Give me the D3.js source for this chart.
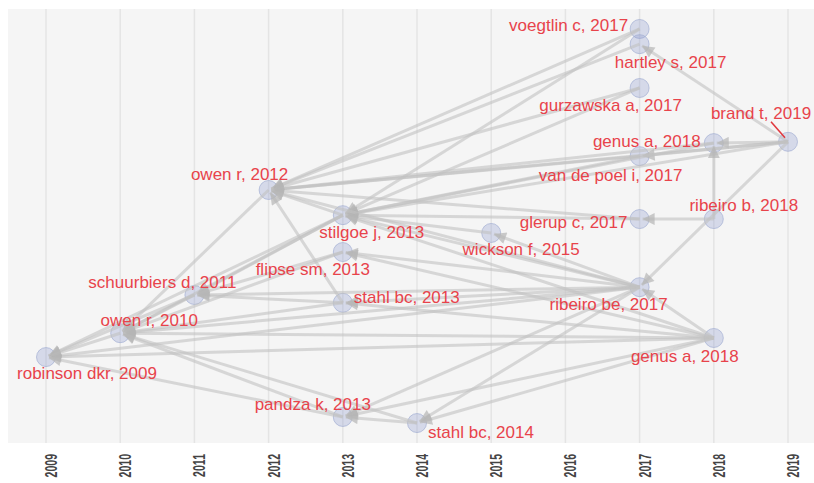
<!DOCTYPE html>
<html>
<head>
<meta charset="utf-8">
<script src="https://cdn.jsdelivr.net/npm/d3@7"></script>
<style>
  body { margin: 0; background: #fff; }
  text { font-family: "Liberation Sans", Arial, sans-serif; }
</style>
</head>
<body>
<div class="container"></div>
<script>
// citation network, year on x, free layout level on y (0 top .. 100 bottom)
var years = [2009, 2010, 2011, 2012, 2013, 2014, 2015, 2016, 2017, 2018, 2019];

var paperNames = ["voegtlin c", "hartley s", "gurzawska a", "brand t", "genus a", "van de poel i",
  "owen r", "stilgoe j", "wickson f", "glerup c", "ribeiro b", "flipse sm", "ribeiro be",
  "schuurbiers d", "stahl bc", "owen r", "genus a", "robinson dkr", "pandza k", "stahl bc"];
var paperYears = [2017, 2017, 2017, 2019, 2018, 2017, 2012, 2013, 2015, 2017, 2018, 2013, 2017,
  2011, 2013, 2010, 2018, 2009, 2013, 2014];
var paperLevels = [4.6, 8.1, 18.2, 30.6, 30.9, 33.9, 41.7, 47.5, 51.6, 48.4, 48.4, 56.0, 64.1,
  65.9, 67.7, 74.7, 75.8, 80.2, 94.0, 95.4];

// citing -> cited (indices into the lists above)
var citeFrom = [0, 0, 1, 2, 2, 3, 3, 3, 3, 3, 3, 4, 4, 5, 5, 9, 9, 10, 10, 8,
  12, 12, 12, 12, 12, 12, 12, 12, 12, 12,
  16, 16, 16, 16, 16, 16, 16, 16,
  7, 7, 7, 7, 6, 14, 14, 14, 11, 11, 13, 13, 15, 18, 18, 19, 19];
var citeTo = [6, 7, 6, 6, 7, 1, 4, 5, 6, 7, 12, 6, 7, 6, 7, 7, 6, 9, 4, 7,
  6, 7, 11, 13, 14, 15, 17, 19, 18, 8,
  12, 15, 17, 14, 11, 18, 19, 7,
  6, 15, 17, 13, 15, 6, 13, 15, 15, 13, 15, 17, 17, 17, 15, 15, 18];

var W = 814, H = 483;
var panel = {left: 8, top: 9, right: 814, bottom: 443};
var labelOffset = [[-71, -3], [31, 18], [-29, 18], [-27, -28], [-67, -2], [-29, 19],
  [-29, -15], [29, 17], [30, 17], [-66, 3], [30, -14], [-30, 17], [-31, 17],
  [-32, -13], [64, -5], [29, -13], [-29, 19], [41, 16], [-30, -12], [64, 9]];

var x = d3.scaleLinear().domain([2009, 2019]).range([46, 788]);
var y = d3.scaleLinear().domain([0, 100]).range([9, 443]);

var svg = d3.select(".container").append("svg")
  .attr("width", W).attr("height", H);

svg.append("rect")
  .attr("x", panel.left).attr("y", panel.top)
  .attr("width", panel.right - panel.left).attr("height", panel.bottom - panel.top)
  .attr("fill", "#f5f5f5");

svg.append("g").selectAll("line").data(years).enter().append("line")
  .attr("x1", function(d){ return x(d); }).attr("x2", function(d){ return x(d); })
  .attr("y1", panel.top).attr("y2", panel.bottom)
  .attr("stroke", "#e4e4e4").attr("stroke-width", 1.5);

svg.append("g").selectAll("text").data(years).enter().append("text")
  .attr("transform", function(d){ return "translate(" + (x(d) + 11) + ",454) rotate(-90) scale(0.66,1)"; })
  .attr("text-anchor", "end")
  .attr("font-size", 16).attr("font-weight", "bold").attr("fill", "#444")
  .text(function(d){ return d; });

var nodes = paperNames.map(function(n, i){
  return {name: n, year: paperYears[i], cx: x(paperYears[i]), cy: y(paperLevels[i]), off: labelOffset[i]};
});
var links = citeFrom.map(function(f, i){ return {s: nodes[f], t: nodes[citeTo[i]]}; });

svg.append("defs").append("marker")
  .attr("id", "arrow").attr("markerUnits", "userSpaceOnUse")
  .attr("viewBox", "0 -5 10 10").attr("refX", 10).attr("refY", 0)
  .attr("markerWidth", 16).attr("markerHeight", 12).attr("orient", "auto")
  .append("path").attr("d", "M0,-5L10,0L0,5Z")
  .attr("fill", "#b5b5b5").attr("fill-opacity", 0.7);

var r = 9.5;

svg.append("g").selectAll("circle").data(nodes).enter().append("circle")
  .attr("cx", function(d){ return d.cx; }).attr("cy", function(d){ return d.cy; })
  .attr("r", r)
  .attr("fill", "#8a99cc").attr("fill-opacity", 0.3)
  .attr("stroke", "#9aa6cf").attr("stroke-opacity", 0.6);

svg.append("g").selectAll("line").data(links).enter().append("line")
  .attr("x1", function(d){ return d.s.cx; }).attr("y1", function(d){ return d.s.cy; })
  .attr("x2", function(d){
    var dx = d.s.cx - d.t.cx, dy = d.s.cy - d.t.cy, len = Math.sqrt(dx*dx + dy*dy);
    return d.t.cx + dx / len * 3;
  })
  .attr("y2", function(d){
    var dx = d.s.cx - d.t.cx, dy = d.s.cy - d.t.cy, len = Math.sqrt(dx*dx + dy*dy);
    return d.t.cy + dy / len * 3;
  })
  .attr("stroke", "#c2c2c2").attr("stroke-opacity", 0.6).attr("stroke-width", 3)
  .attr("marker-end", "url(#arrow)");

// leader line from the brand t label to its node
svg.append("line")
  .attr("x1", x(2019) - 17).attr("y1", y(paperLevels[3]) - 20)
  .attr("x2", x(2019) - 3).attr("y2", y(paperLevels[3]) - 4)
  .attr("stroke", "#e0393f").attr("stroke-width", 1.5);

svg.append("g").selectAll("text").data(nodes).enter().append("text")
  .attr("x", function(d){ return d.cx + d.off[0]; })
  .attr("y", function(d){ return d.cy + d.off[1]; })
  .attr("text-anchor", "middle").attr("dominant-baseline", "central")
  .attr("font-size", 17).attr("fill", "#e8434b")
  .text(function(d){ return d.name + ", " + d.year; });
</script>
</body>
</html>
